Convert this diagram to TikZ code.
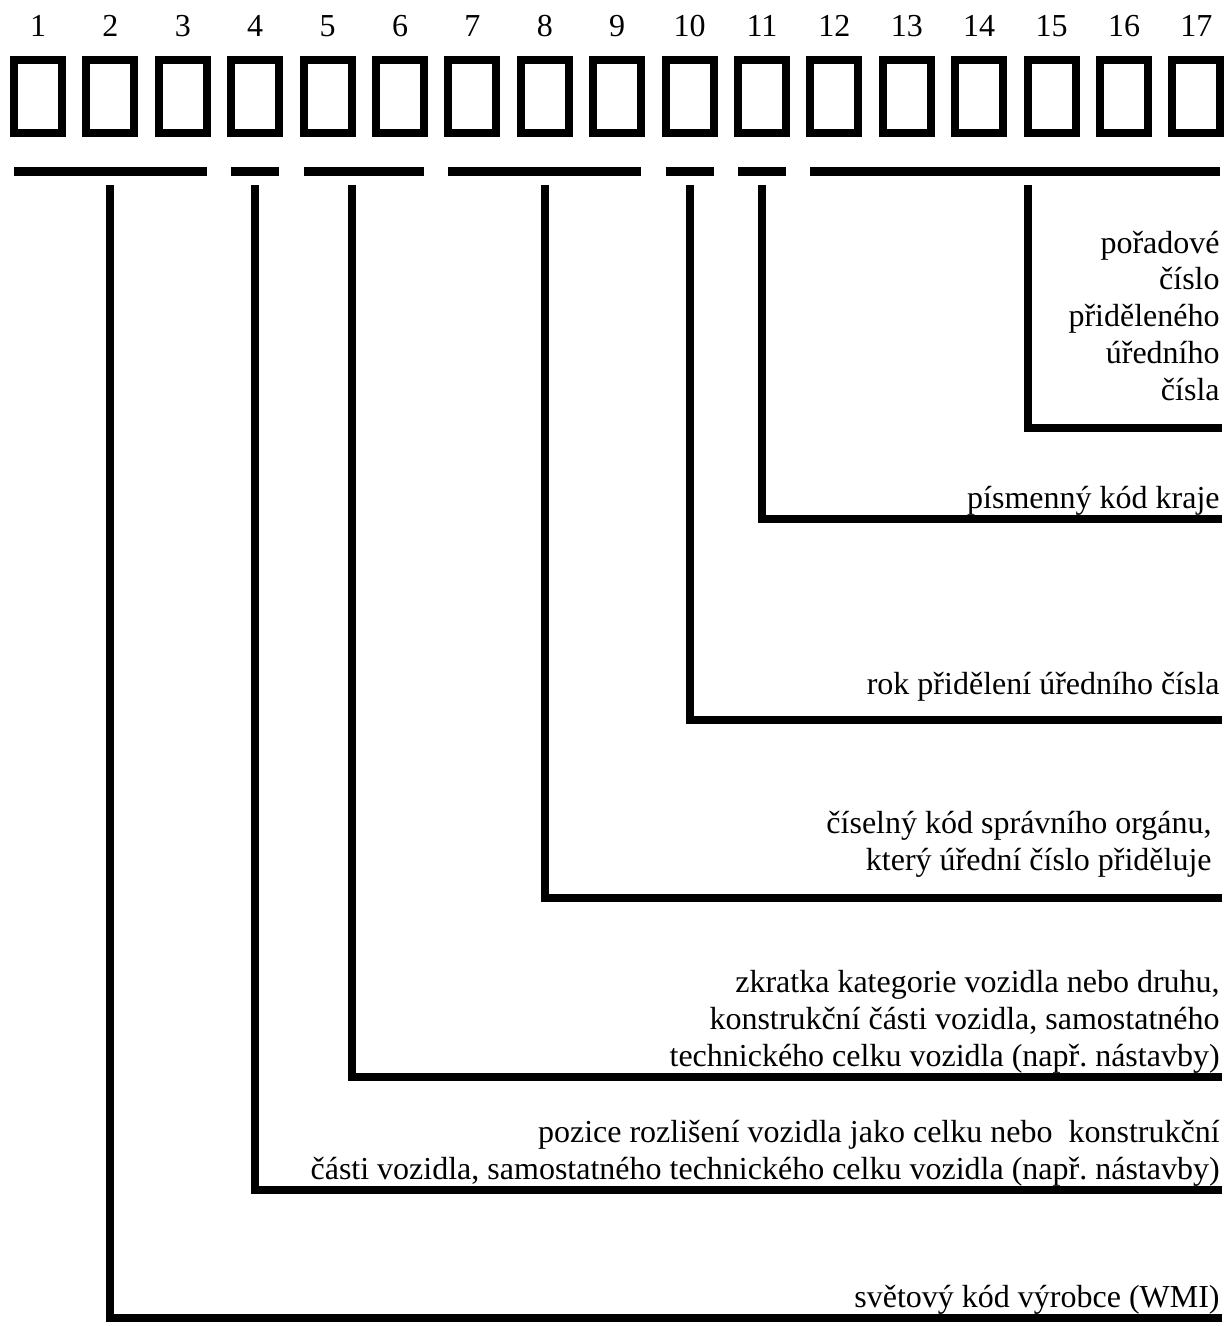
\documentclass[tikz,border=0pt]{standalone}
\usepackage{fontspec}
\setmainfont{Liberation Serif}
\usetikzlibrary{positioning,calc}

\tikzset{
	vinbox/.style={draw, line width=4pt, minimum width=24pt, minimum height=36.5pt, inner sep=0pt, outer sep=0pt},
	digit/.style={inner sep=0pt, font=\fontsize{16}{18}\selectfont},
	grpbar/.style={line width=4.5pt},
	leg/.style={line width=4pt, line join=miter},
	note/.style={inner sep=0pt, align=right, anchor=base east, font=\fontsize{16}{18.35}\selectfont}
}

\begin{document}
\begin{tikzpicture}[x=0.5pt, y=-0.5pt]
	\useasboundingbox (0,0) rectangle (1227,1326);
	
	% the seventeen positions
	\foreach \i in {1,...,17} {
		\node[vinbox] (b\i) at ({38+72.4*(\i-1)},96.5) {};
		\node[digit, above=11.5pt of b\i] (n\i) {\i};
	}
	
	% groups
	\coordinate (barrow) at (0,172);
	\draw[grpbar] (b1.west |- barrow) -- (b3.east |- barrow);
	\draw[grpbar] (b4.west |- barrow) -- (b4.east |- barrow);
	\draw[grpbar] (b5.west |- barrow) -- (b6.east |- barrow);
	\draw[grpbar] (b7.west |- barrow) -- (b9.east |- barrow);
	\draw[grpbar] (b10.west |- barrow) -- (b10.east |- barrow);
	\draw[grpbar] (b11.west |- barrow) -- (b11.east |- barrow);
	\draw[grpbar] (b12.west |- barrow) -- (b17.east |- barrow);
	
	% ends of the legs
	\coordinate (legtop) at (0,185);
	\coordinate (e15) at (1222,428);
	\coordinate (e11) at (1222,519);
	\coordinate (e10) at (1222,720);
	\coordinate (e8) at (1222,898);
	\coordinate (e5) at (1222,1077);
	\coordinate (e4) at (1222,1190);
	\coordinate (e2) at (1222,1318);
	
	\draw[leg] (b15.west |- legtop) |- (e15);
	\draw[leg] (b11 |- legtop) |- (e11);
	\draw[leg] (b10 |- legtop) |- (e10);
	\draw[leg] (b8 |- legtop) |- (e8);
	\draw[leg] (b5.east |- legtop) |- (e5);
	\draw[leg] (b4 |- legtop) |- (e4);
	\draw[leg] (b2 |- legtop) |- (e2);
	
	% texts (base = last line)
	\node[note] (t15) at (1220,400) {pořadové\\číslo\\přiděleného\\úředního\\čísla};
	\node[note] (t11) at (1220,508) {písmenný kód kraje};
	\node[note] (t10) at (1220,694) {rok přidělení úředního čísla};
	\node[note] (t8) at (1212,870) {číselný kód správního orgánu,\\který úřední číslo přiděluje};
	\node[note] (t5) at (1220,1066) {zkratka kategorie vozidla nebo druhu,\\konstrukční části vozidla, samostatného\\technického celku vozidla (např.\ nástavby)};
	\node[note] (t4) at (1220,1179) {pozice rozlišení vozidla jako celku nebo~ konstrukční\\části vozidla, samostatného technického celku vozidla (např.\ nástavby)};
	\node[note] (t2) at (1220,1307) {světový kód výrobce (WMI)};
\end{tikzpicture}
\end{document}
